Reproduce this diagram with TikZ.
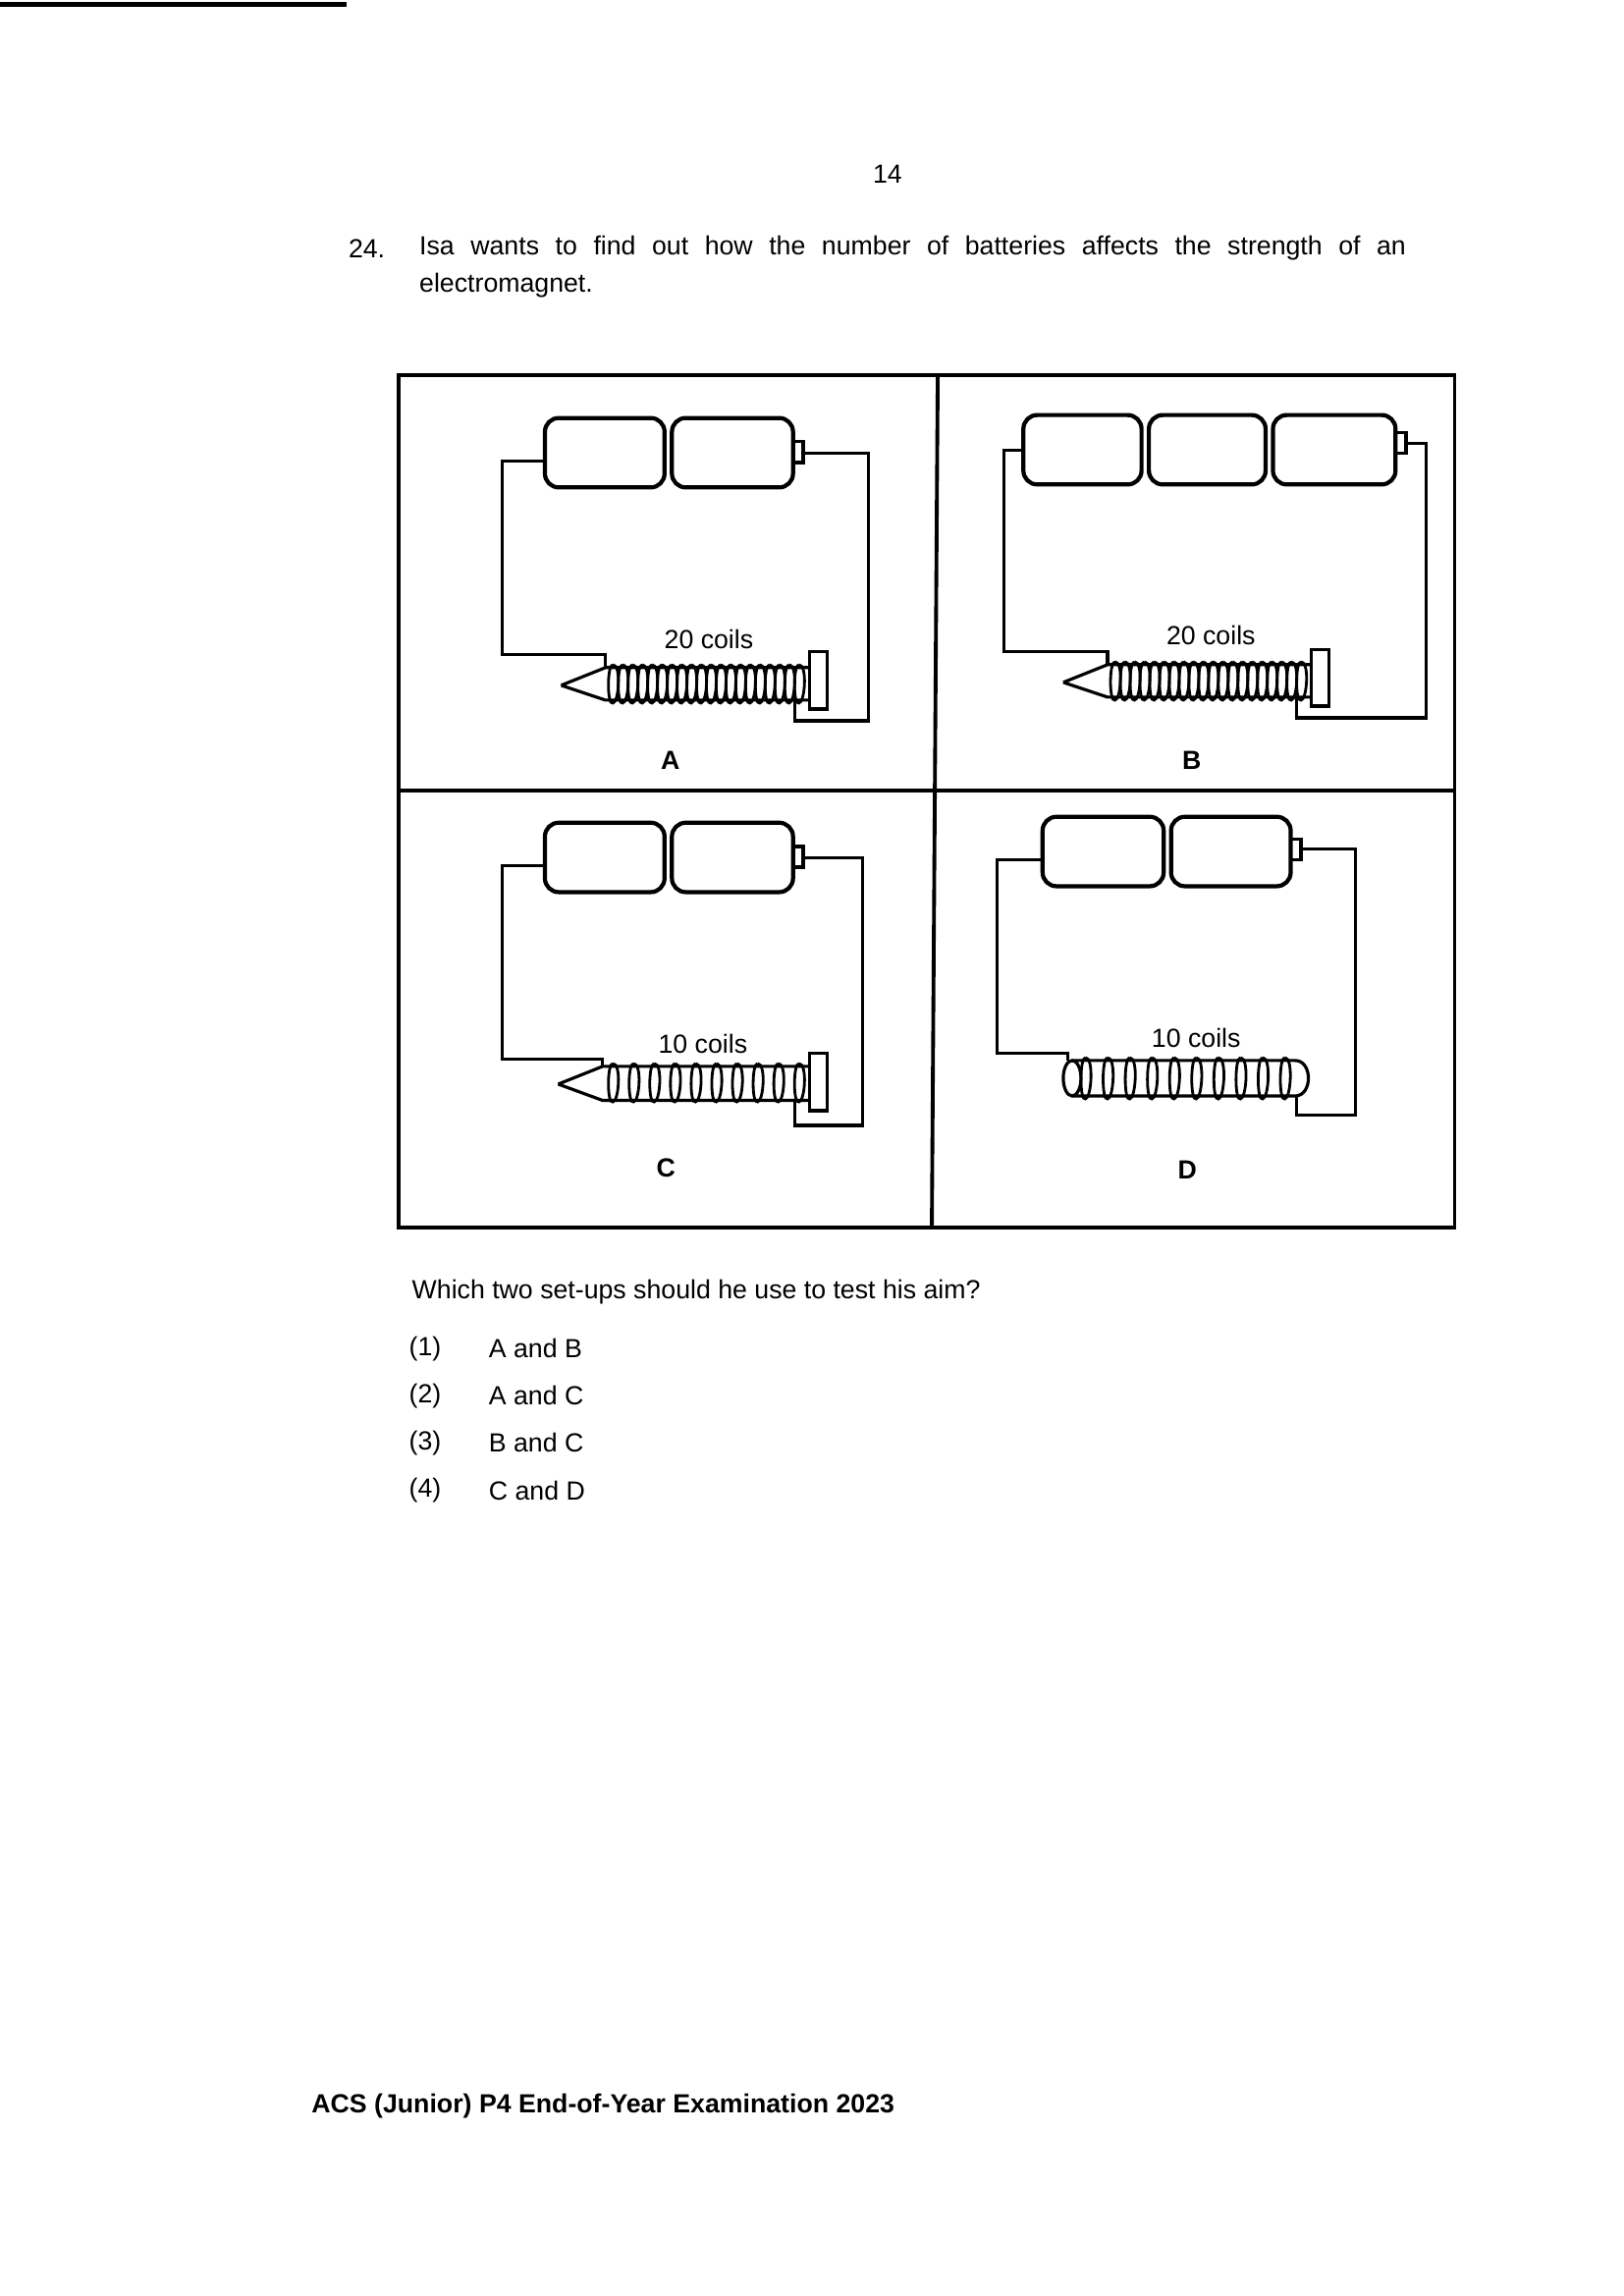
\documentclass[tikz,border=0pt]{standalone}
\usepackage{fontspec}
\setmainfont{Liberation Sans}
\begin{document}
\begin{tikzpicture}[x=0.01504cm,y=-0.01504cm,line width=0.9pt,
  bat/.style={draw,rounded corners=4pt,line width=1.2pt},
  wire/.style={draw,line width=0.9pt},
  txt/.style={font=\fontsize{7.6}{10}\selectfont,inner sep=0pt},
  lbl/.style={font=\fontsize{7.6}{10}\selectfont\bfseries,inner sep=0pt}]
\useasboundingbox (0,0) rectangle (1099.7,1554.5);
\draw[line width=1.5pt] (0,3) -- (235,3);
\node[txt] (pg) at (601,118) {14};
\node[txt,anchor=west] (q) at (235,168) {24.};
\node[txt,anchor=west] (l1) at (283,168) {Isa\hspace{0.62em}wants\hspace{0.62em}to\hspace{0.62em}find\hspace{0.62em}out\hspace{0.62em}how\hspace{0.62em}the\hspace{0.62em}number\hspace{0.62em}of\hspace{0.62em}batteries\hspace{0.62em}affects\hspace{0.62em}the\hspace{0.62em}strength\hspace{0.62em}of\hspace{0.62em}an};
\node[txt,anchor=west] (l2) at (283,193) {electromagnet.};
% frame
\draw[line width=1.1pt] (270,254) rectangle (985,831);
\draw[line width=1.1pt] (270,535) -- (985,535);
\draw[line width=1.1pt] (635,254) -- (631,831);
% macros
\newcommand{\bat}[4]{\draw[bat] (#1,#3) rectangle (#2,#4);}
\newcommand{\term}[3]{\draw[line width=1pt] (#1,#2-7) rectangle (#1+7,#2+7);}
\newcommand{\coils}[5]{% x1 x2 ymid n halfh
  \foreach \i in {0,...,#4}{
    \pgfmathsetmacro\cx{#1+(#2-#1)*\i/#4}
    \draw[line width=0.8pt] (\cx,#3-#5) .. controls (\cx+6,#3-#5) and (\cx+4,#3+#5) .. (\cx,#3+#5)
      .. controls (\cx-4,#3+#5+2) and (\cx-4,#3-#5) .. (\cx,#3-#5);}}
% ---------- A
\bat{369}{450}{283}{330}\bat{455}{537}{283}{330}\term{537}{306}
\draw[line width=1pt] (450,302) -- (455,302) (450,312)--(455,312);
\draw[wire] (369,312) -- (340,312) -- (340,443) -- (410,443) -- (410,452);
\draw[wire] (544,307) -- (588,307) -- (588,488) -- (538,488) -- (538,474);
\draw (380,464) -- (410,452) -- (548,452) (380,464) -- (410,474) -- (548,474);
\draw (548,441) rectangle (560,480);
\coils{415}{541}{463}{19}{13}
\node[txt] (la) at (480,433) {20 coils};
\node[lbl] (A) at (454,515) {A};
% ---------- B
\bat{693}{773}{281}{328}\bat{778}{857}{281}{328}\bat{862}{945}{281}{328}\term{945}{300}
\draw[line width=1pt] (773,300) -- (778,300) (773,310)--(778,310) (857,300)--(862,300) (857,310)--(862,310);
\draw[wire] (693,305) -- (680,305) -- (680,441) -- (750,441) -- (750,450);
\draw[wire] (952,300) -- (966,300) -- (966,486) -- (878,486) -- (878,472);
\draw (720,462) -- (750,450) -- (888,450) (720,462) -- (750,472) -- (888,472);
\draw (888,440) rectangle (900,478);
\coils{755}{881}{461}{19}{13}
\node[txt] (lb) at (820,430) {20 coils};
\node[lbl] (B) at (807,515) {B};
% ---------- C
\bat{369}{450}{557}{604}\bat{455}{537}{557}{604}\term{537}{580}
\draw[line width=1pt] (450,576) -- (455,576) (450,586)--(455,586);
\draw[wire] (369,586) -- (340,586) -- (340,717) -- (408,717) -- (408,722);
\draw[wire] (544,581) -- (584,581) -- (584,762) -- (538,762) -- (538,745);
\draw (378,734) -- (408,722) -- (548,722) (378,734) -- (408,745) -- (548,745);
\draw (548,713) rectangle (560,752);
\coils{415}{541}{733}{9}{13}
\node[txt] (lc) at (476,707) {10 coils};
\node[lbl] (C) at (451,791) {C};
% ---------- D
\bat{706}{788}{553}{600}\bat{793}{874}{553}{600}\term{874}{575}
\draw[line width=1pt] (788,572) -- (793,572) (788,582)--(793,582);
\draw[wire] (706,582) -- (675,582) -- (675,713) -- (723,713) -- (723,718);
\draw[wire] (881,575) -- (918,575) -- (918,755) -- (878,755) -- (878,742);
\draw (726,718) -- (877,718) .. controls (889,718) and (889,742) .. (877,742) -- (726,742);
\draw (726,730) ellipse (6 and 12);
\coils{735}{870}{730}{9}{14}
\node[txt] (ld) at (810,703) {10 coils};
\node[lbl] (D) at (804,792) {D};
% ---------- question
\node[txt,anchor=west] (w) at (278,875) {Which two set-ups should he use to test his aim?};
\node[txt,anchor=west] (o1) at (276,913) {(1)}; \node[txt,anchor=west] (t1) at (330,913) {A and B};
\node[txt,anchor=west] (o2) at (276,945) {(2)}; \node[txt,anchor=west] (t2) at (330,945) {A and C};
\node[txt,anchor=west] (o3) at (276,977) {(3)}; \node[txt,anchor=west] (t3) at (330,977) {B and C};
\node[txt,anchor=west] (o4) at (276,1009) {(4)}; \node[txt,anchor=west] (t4) at (330,1009) {C and D};
\node[lbl,anchor=west] (f) at (210,1426) {ACS (Junior) P4 End-of-Year Examination 2023};
\end{tikzpicture}
\end{document}
